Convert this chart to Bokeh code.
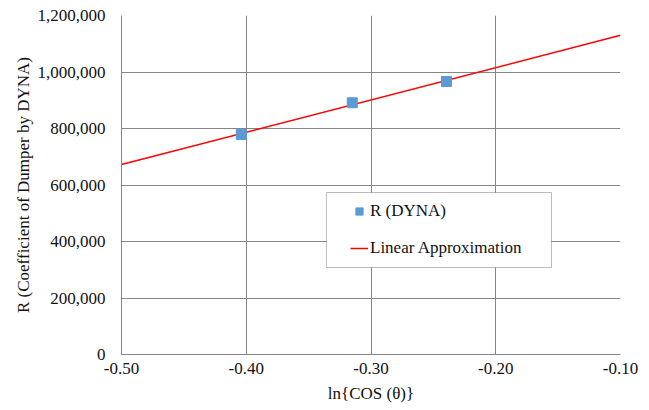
import numpy as np
from bokeh.plotting import figure
from bokeh.models import (Range1d, FixedTicker, NumeralTickFormatter, Legend,
                          LegendItem, BoxAnnotation)
from bokeh.embed import file_html
from bokeh.resources import INLINE

# Damper coefficient from DYNA against ln{cos(theta)}
ln_cos_theta = [-0.404, -0.315, -0.2395]
r_dyna = [778800, 891000, 966400]

x_ticks = [-0.5, -0.4, -0.3, -0.2, -0.1]
y_ticks = [0, 200000, 400000, 600000, 800000, 1000000, 1200000]

# Straight-line fit through the DYNA points, drawn across the whole x range
slope, intercept = np.polyfit(ln_cos_theta, r_dyna, 1)
fit_x = [x_ticks[0], x_ticks[-1]]
fit_y = [slope * v + intercept for v in fit_x]

FONT = "Liberation Serif"
SIZE = "17px"
GRID = "#868686"
TEXT = "#111111"

p = figure(width=649, height=410, output_backend="svg", toolbar_location=None,
           x_range=Range1d(-0.5, -0.1), y_range=Range1d(0, 1200000),
           min_border_left=121, min_border_right=29, min_border_top=15,
           min_border_bottom=56, outline_line_color=None,
           background_fill_color="white", border_fill_color="white")

# Legend frame (white box with a dark border) drawn under the legend entries
p.add_layout(BoxAnnotation(left=-0.3357, right=-0.1553, top=573450, bottom=307965,
                           fill_color="white", fill_alpha=1.0,
                           line_color="#222222", line_width=1, level="overlay"))

line_r = p.line(fit_x, fit_y, line_color="#FF0000", line_width=1.5)
pts_r = p.scatter(ln_cos_theta, r_dyna, marker="square", size=10,
                  fill_color="#5B9BD5", line_color="#5B9BD5")

p.axis.axis_line_color = GRID
p.axis.major_tick_line_color = None
p.axis.minor_tick_line_color = None
p.axis.major_tick_out = 0
p.axis.major_tick_in = 0
p.axis.major_label_text_font = FONT
p.axis.major_label_text_font_size = SIZE
p.axis.major_label_text_color = TEXT
p.axis.axis_label_text_font = FONT
p.axis.axis_label_text_font_size = SIZE
p.axis.axis_label_text_font_style = "normal"
p.axis.axis_label_text_color = TEXT

p.xaxis.ticker = FixedTicker(ticks=x_ticks)
p.xaxis.formatter = NumeralTickFormatter(format="0.00")
p.xaxis.axis_label = "ln{COS (θ)}"
p.xaxis.major_label_standoff = 8
p.xaxis.axis_label_standoff = 7

p.yaxis.ticker = FixedTicker(ticks=y_ticks)
p.yaxis.formatter = NumeralTickFormatter(format="0,0")
p.yaxis.axis_label = "R (Coefficient of Dumper by DYNA)"
p.yaxis.major_label_standoff = 16
p.yaxis.axis_label_standoff = 2

p.xgrid.grid_line_color = GRID
p.ygrid.grid_line_color = GRID
p.xgrid.ticker = FixedTicker(ticks=x_ticks)
p.ygrid.ticker = FixedTicker(ticks=y_ticks)

legend = Legend(items=[LegendItem(label="R (DYNA)", renderers=[pts_r]),
                       LegendItem(label="Linear Approximation", renderers=[line_r])],
                location=(229, 96), padding=0, margin=0, spacing=17,
                glyph_width=18, glyph_height=20, label_height=20,
                label_standoff=2, border_line_color=None,
                background_fill_alpha=0.0,
                label_text_font=FONT, label_text_font_size=SIZE,
                label_text_color=TEXT)
p.add_layout(legend, "center")

open("out.html", "w").write(file_html(p, INLINE))
